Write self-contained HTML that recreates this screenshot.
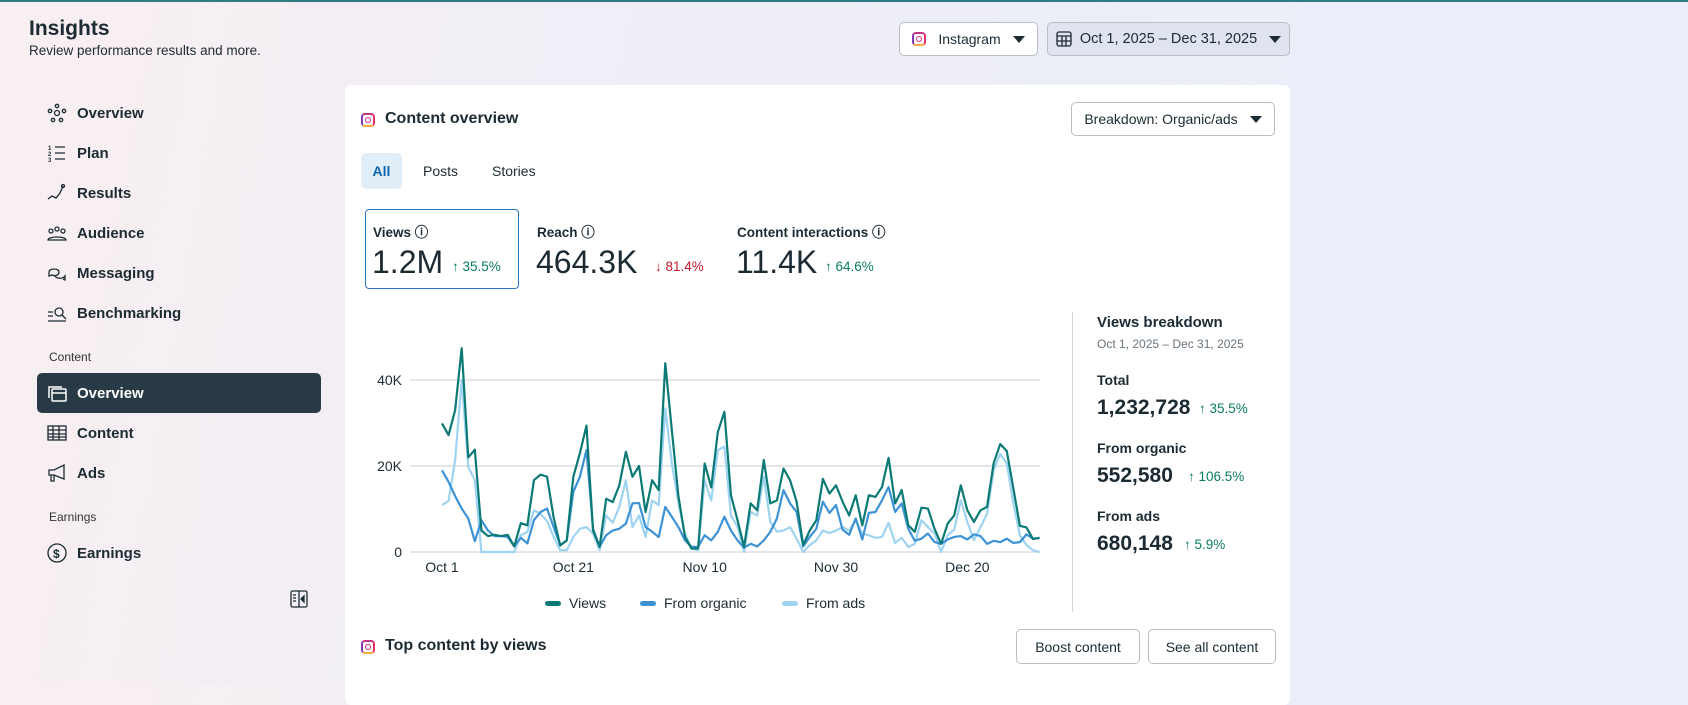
<!DOCTYPE html>
<html><head><meta charset="utf-8"><style>
*{box-sizing:border-box;margin:0;padding:0}
body{width:1688px;height:684px;overflow:hidden;font-family:"Liberation Sans",sans-serif;color:#1c2b33;background:linear-gradient(100deg,#f9eff1 0%,#eeeef7 40%,#e9eef8 100%);position:relative}
.a{position:absolute;white-space:nowrap}
.b{font-weight:bold}
.nav{position:absolute;left:47px;font-size:15px;font-weight:bold;display:flex;align-items:center;height:20px}
.nav svg{width:20px;height:20px;margin-right:10px}
.card{position:absolute;left:345px;top:85px;width:945px;height:620px;background:#fff;border-radius:6px}
.btn{position:absolute;border:1px solid #b8bec6;border-radius:5px;background:#fff;font-size:14px;display:flex;align-items:center;justify-content:center}
.tri{display:inline-block;width:0;height:0;border-left:6px solid transparent;border-right:6px solid transparent;border-top:7px solid #1c2b33;margin-left:12px}
.up{color:#0a7b63}.dn{color:#c0182b}
.ig{display:inline-block;width:14px;height:14px;border:2px solid #d62976;border-radius:4px;position:relative;border-color:#c13584 #e1306c #fcaf45 #833ab4}
.ig:after{content:"";position:absolute;left:2px;top:2px;width:6px;height:6px;border:1.5px solid #d62976;border-radius:50%;box-sizing:border-box}
</style></head><body>
<div class="a" style="left:0;top:0;width:1688px;height:2px;background:#2e7a82"></div>
<div class="a b" style="left:29px;top:17px;font-size:21px">Insights</div>
<div class="a" style="left:29px;top:43px;font-size:13.5px">Review performance results and more.</div>

<div class="nav" style="top:103px"><svg viewBox="0 0 20 20" fill="none" stroke="#1c2b33" stroke-width="1.3"><circle cx="10" cy="10" r="2.5"/><circle cx="10" cy="3" r="1.7"/><circle cx="3" cy="8" r="1.7"/><circle cx="17" cy="8" r="1.7"/><circle cx="6" cy="17" r="1.7"/><circle cx="14" cy="17" r="1.7"/></svg>Overview</div>
<div class="nav" style="top:143px"><svg viewBox="0 0 20 20" fill="none" stroke="#1c2b33" stroke-width="1.3"><path d="M8 4h10M8 10h10M8 16h10"/><text x="1" y="7" font-size="6" fill="#1c2b33" stroke="none">1</text><text x="1" y="13" font-size="6" fill="#1c2b33" stroke="none">2</text><text x="1" y="19" font-size="6" fill="#1c2b33" stroke="none">3</text></svg>Plan</div>
<div class="nav" style="top:183px"><svg viewBox="0 0 20 20" fill="none" stroke="#1c2b33" stroke-width="1.3"><path d="M1 16l4-3 4 2 4-5 3-7"/><circle cx="16" cy="3" r="1.5"/></svg>Results</div>
<div class="nav" style="top:223px"><svg viewBox="0 0 20 20" fill="none" stroke="#1c2b33" stroke-width="1.3"><circle cx="4" cy="8" r="2"/><circle cx="10" cy="6" r="2"/><circle cx="16" cy="8" r="2"/><path d="M1 17c0-4 18-4 18 0z"/></svg>Audience</div>
<div class="nav" style="top:263px"><svg viewBox="0 0 20 20" fill="none" stroke="#1c2b33" stroke-width="1.3"><path d="M2 9c0-4 10-4 10 0s-5 4-7 3l-3 1z"/><path d="M8 13c2 3 8 3 10 0v4l-2-1"/></svg>Messaging</div>
<div class="nav" style="top:303px"><svg viewBox="0 0 20 20" fill="none" stroke="#1c2b33" stroke-width="1.3"><path d="M1 18h18M1 9h5M1 13h5"/><circle cx="12" cy="9" r="4"/><path d="M15 12l4 4"/></svg>Benchmarking</div>
<div class="a" style="left:49px;top:350px;font-size:12px;color:#333">Content</div>
<div class="a" style="left:37px;top:373px;width:284px;height:40px;background:#283a45;border-radius:5px"></div>
<div class="nav" style="top:383px;color:#fff"><svg viewBox="0 0 20 20" fill="none" stroke="#fff" stroke-width="1.5"><rect x="5" y="6" width="14" height="12" rx="1"/><path d="M5 10h14M2 15V4h13"/></svg>Overview</div>
<div class="nav" style="top:423px"><svg viewBox="0 0 20 20" fill="none" stroke="#1c2b33" stroke-width="1.3"><rect x="1" y="3" width="18" height="14"/><path d="M1 7h18M1 11h18M1 14h18M6 3v14M12 3v14"/></svg>Content</div>
<div class="nav" style="top:463px"><svg viewBox="0 0 20 20" fill="none" stroke="#1c2b33" stroke-width="1.3"><path d="M2 7h5l10-5v14L7 12H2zM4 12v6h3v-6"/></svg>Ads</div>
<div class="a" style="left:49px;top:510px;font-size:12px;color:#333">Earnings</div>
<div class="nav" style="top:543px"><svg viewBox="0 0 20 20" fill="none" stroke="#1c2b33" stroke-width="1.3"><circle cx="10" cy="10" r="9"/><text x="6" y="15" font-size="12" fill="#1c2b33" stroke="none">$</text></svg>Earnings</div>
<svg class="a" style="left:290px;top:590px" width="18" height="18" viewBox="0 0 18 18" fill="none" stroke="#1c2b33" stroke-width="1.3"><rect x="1" y="1" width="16" height="16" rx="1.5"/><path d="M9 1v16M3 5h3M3 8h3M3 11h3"/><path d="M14 6v6l-3-3z" fill="#1c2b33"/></svg>

<div class="btn" style="left:899px;top:22px;width:139px;height:34px;font-size:14px"><span class="ig" style="margin-right:12px"></span>Instagram<span class="tri"></span></div>
<div class="btn" style="left:1047px;top:22px;width:243px;height:34px;background:#dfe4ee;font-size:14.5px"><svg width="16" height="16" viewBox="0 0 16 16" fill="none" stroke="#1c2b33" stroke-width="1.3" style="margin-right:8px"><rect x="1" y="1" width="14" height="14" rx="2"/><path d="M1 5h14M1 10h14M6 5v10M10 5v10"/></svg>Oct 1, 2025 – Dec 31, 2025<span class="tri"></span></div>

<div class="card"></div>
<div class="a" style="left:361px;top:113px"><span class="ig"></span></div>
<div class="a b" style="left:385px;top:110px;font-size:16px">Content overview</div>
<div class="btn" style="left:1071px;top:102px;width:204px;height:34px;font-size:14px">Breakdown: Organic/ads<span class="tri"></span></div>
<div class="a" style="left:361px;top:153px;width:41px;height:36px;background:#e1edf7;border-radius:5px;color:#0a66b0;font-weight:bold;font-size:14px;text-align:center;line-height:36px">All</div>
<div class="a" style="left:423px;top:163px;font-size:14px">Posts</div>
<div class="a" style="left:492px;top:163px;font-size:14px">Stories</div>

<div class="a" style="left:365px;top:209px;width:154px;height:80px;border:1.5px solid #2b78c2;border-radius:4px"></div>
<div class="a b" style="left:373px;top:221px;font-size:13.5px">Views ⓘ</div>
<div class="a" style="left:372px;top:244px;font-size:32px">1.2M</div>
<div class="a up" style="left:452px;top:259px;font-size:13.5px">↑ 35.5%</div>
<div class="a b" style="left:537px;top:221px;font-size:13.5px">Reach ⓘ</div>
<div class="a" style="left:536px;top:244px;font-size:32px">464.3K</div>
<div class="a dn" style="left:655px;top:259px;font-size:13.5px">↓ 81.4%</div>
<div class="a b" style="left:737px;top:221px;font-size:13.5px">Content interactions ⓘ</div>
<div class="a" style="left:736px;top:244px;font-size:32px">11.4K</div>
<div class="a up" style="left:825px;top:259px;font-size:13.5px">↑ 64.6%</div>

<div class="a" style="left:1072px;top:312px;width:1px;height:300px;background:#d0d5db"></div>
<div class="a b" style="left:1097px;top:314px;font-size:15px">Views breakdown</div>
<div class="a" style="left:1097px;top:337px;font-size:12px;color:#67737c">Oct 1, 2025 – Dec 31, 2025</div>
<div class="a b" style="left:1097px;top:372px;font-size:14px">Total</div>
<div class="a b" style="left:1097px;top:396px;font-size:21px">1,232,728</div>
<div class="a up" style="left:1199px;top:401px;font-size:13.5px">↑ 35.5%</div>
<div class="a b" style="left:1097px;top:440px;font-size:14px">From organic</div>
<div class="a b" style="left:1097px;top:464px;font-size:21px">552,580</div>
<div class="a up" style="left:1188px;top:469px;font-size:13.5px">↑ 106.5%</div>
<div class="a b" style="left:1097px;top:508px;font-size:14px">From ads</div>
<div class="a b" style="left:1097px;top:532px;font-size:21px">680,148</div>
<div class="a up" style="left:1184px;top:537px;font-size:13.5px">↑ 5.9%</div>

<svg id="chart" class="a" style="left:0;top:0" width="1688" height="684"></svg>

<div class="a" style="left:361px;top:640px"><span class="ig"></span></div>
<div class="a b" style="left:385px;top:637px;font-size:16px">Top content by views</div>
<div class="btn" style="left:1016px;top:629px;width:124px;height:35px">Boost content</div>
<div class="btn" style="left:1148px;top:629px;width:128px;height:35px">See all content</div>

<script>
const xLabels=["Oct 1","Oct 21","Nov 10","Nov 30","Dec 20"];
const xLabelIdx=[0,20,40,60,80];
const yTicks=[0,20000,40000];
const yTickLabels=["0","20K","40K"];
const views=[29.9,27.2,33,47.4,22,23.8,5,3.7,4,3.7,4,1.3,6.7,6.2,16.7,18,17.5,8,1.5,2.7,17.5,23,29.4,5,1.2,12.4,11.6,15.5,23.3,17.5,20,9.3,16.7,14.4,43.9,28.3,13,3.5,0.8,0.8,20.6,15,27.9,32.6,13.2,7.4,1.2,11.3,9.7,21.4,11.3,12,19.4,16.7,11.7,1.6,5,7.4,17,13.6,15.5,11.7,8.5,13.2,6.2,13.2,12.8,15.1,21.9,11.3,14.4,6.2,4.7,10.3,10.1,5.4,1.9,6.6,8.5,15.5,9.7,7,9.7,10.5,20.6,25.1,23.5,14.8,6.1,5.7,3,3.3];
const organic=[19,16.3,13,10.1,7.8,2.5,7.4,5,3.7,3.7,3.5,1.3,3.3,2,7.4,9.3,10.1,5.8,1.6,2.7,14,17.5,23.7,5.4,1.2,3.9,5,5.4,6.6,11.3,11.4,5.8,4.7,3.5,10.5,8.2,5.8,2.7,1.2,1.2,3.9,2.7,4.7,8.2,5,2.7,1,1.9,1.3,2.7,4.7,7.8,14.4,11.3,9.3,1.3,3.5,5.4,11.7,9.1,10.9,5.2,4,7.8,2.9,9.1,9.3,12,15.1,9.3,11.3,5.4,2.6,3.1,4.3,2.3,1.9,2.9,3.5,3.7,2.9,4.1,3.7,1.9,2.6,2.3,3.1,2.1,2.3,4.1,3.1,3.3];
const ads=[10.9,11.9,21.4,40,19.8,16.7,0,0,0,0,0,0,3.9,4.7,9.7,8.9,7.2,3.5,0.4,0.4,3.5,5.4,5.8,4.3,0.4,8.5,6.8,10.5,16.7,5.8,8.5,3.5,12,10.9,33.4,20.6,11.3,4.3,0.8,0.4,16.7,12,23.7,24.5,8.5,5.8,0,9.3,8.5,17.5,7,4.7,5,5.8,3.1,0,1.6,2.7,5,4.4,5,5.8,5,7.4,4.3,3.9,3.3,3.5,6.8,2.1,3.3,1.2,1.9,7.4,5.8,4.3,0,3.9,5.2,12,7,2.7,5.8,8.9,19,22.8,20.6,11.3,3.9,1.6,0.4,0];
const seriesNames=["Views","From organic","From ads"];
const colors=["#0b7a75","#3d92d6","#9fd3f2"];
const NS="http://www.w3.org/2000/svg";
const svg=document.getElementById('chart');
const X0=442,DX=6.567,Y0=552,H=172;
const xs=i=>X0+i*DX;
const ys=v=>Y0-v/40000*H;
function mk(t,a){const e=document.createElementNS(NS,t);for(const k in a)e.setAttribute(k,a[k]);svg.appendChild(e);return e;}
yTicks.forEach((t,i)=>{
  const l=mk('line',{x1:410,x2:1040,y1:ys(t),y2:ys(t),stroke:'#e4e6e9','stroke-width':2});
  
  
  const tx=mk('text',{x:402,y:ys(t)+5,'text-anchor':'end','font-size':14,fill:'#1c2b33','font-family':'Liberation Sans'});
  tx.textContent=yTickLabels[i];
  
  
});
xLabels.forEach((s,i)=>{
  const tx=mk('text',{x:xs(xLabelIdx[i]),y:572,'text-anchor':'middle','font-size':14,fill:'#1c2b33','font-family':'Liberation Sans'});
  tx.textContent=s;
  
  
});
[ads,organic,views].forEach((arr,k)=>{
  const ci=2-k;
  const p=mk('polyline',{points:arr.map((v,i)=>xs(i)+','+ys(v*1000)).join(' '),fill:'none',stroke:colors[ci],'stroke-width':2.2,'stroke-linejoin':'round'});
  
  
});
const legX=[545,640,782];
seriesNames.forEach((n,i)=>{
  const r=mk('rect',{x:legX[i],y:601,width:16,height:5,rx:2.5,fill:colors[i]});
  
  
  const t=mk('text',{x:legX[i]+24,y:608,'font-size':14,fill:'#1c2b33','font-family':'Liberation Sans'});
  t.textContent=n;
  
  
});
</script>
</body></html>
